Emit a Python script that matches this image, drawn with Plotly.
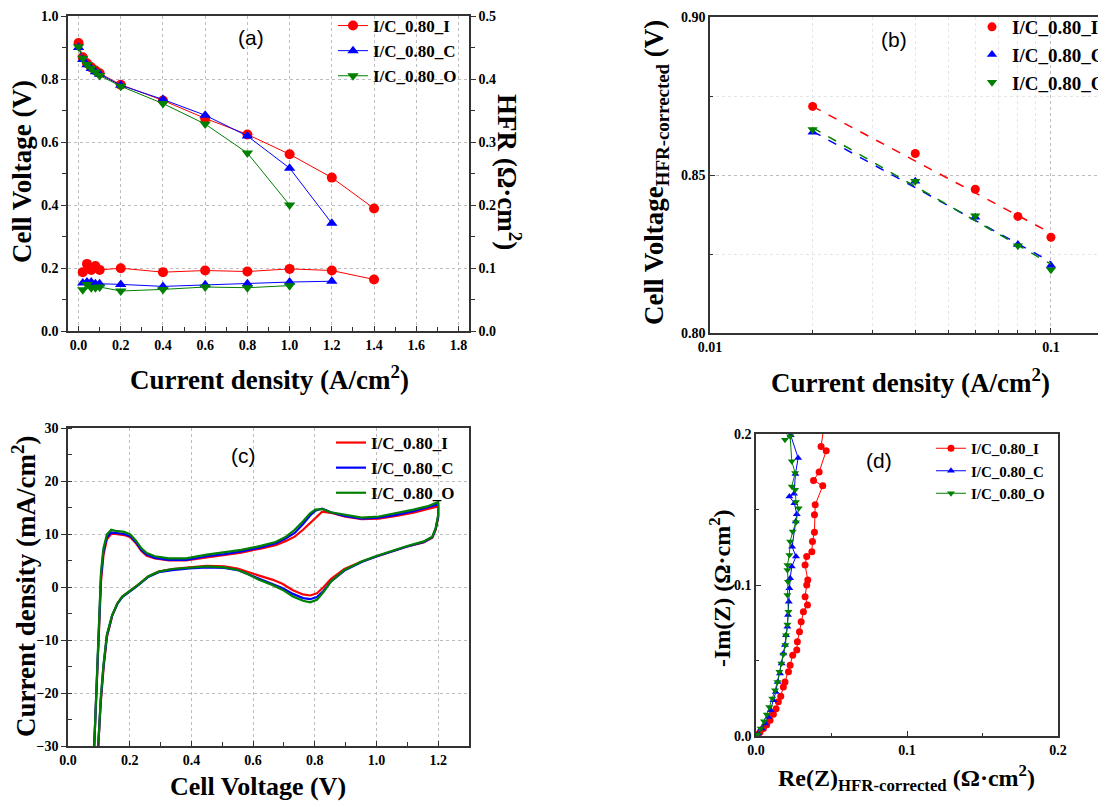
import plotly.graph_objects as go

# The page body has an 8px default margin, so the figure is drawn 8px in from the corner.
OFF = 8
W, H = 1106 - OFF, 807 - OFF


def fx(p):
    return (p - OFF) / W


def fy(p):
    return 1 - (p - OFF) / H


RED, BLUE, GREEN = "#FF0000", "#0000FF", "#008000"
NAMES = ["I/C_0.80_I", "I/C_0.80_C", "I/C_0.80_O"]
SERIF = "Liberation Serif"

# ---------------- (a) polarization + HFR ----------------
pol_j = [0.0, 0.02, 0.04, 0.06, 0.08, 0.1, 0.2, 0.4, 0.6, 0.8, 1.0, 1.2, 1.4]
pol_V_I = [0.914, 0.869, 0.850, 0.837, 0.827, 0.818, 0.782, 0.732, 0.675, 0.624, 0.561, 0.487, 0.389]
pol_V_C = [0.900, 0.862, 0.845, 0.833, 0.823, 0.815, 0.780, 0.735, 0.685, 0.619, 0.517, 0.342]
pol_V_O = [0.902, 0.866, 0.846, 0.834, 0.822, 0.811, 0.777, 0.722, 0.657, 0.565, 0.400]

hfr_j = [0.02, 0.04, 0.06, 0.08, 0.1, 0.2, 0.4, 0.6, 0.8, 1.0, 1.2, 1.4]
hfr_I = [0.0934, 0.1065, 0.0970, 0.1030, 0.0970, 0.0997, 0.0934, 0.0960, 0.0944, 0.0986, 0.0960, 0.0818]
hfr_C = [0.0760, 0.0777, 0.0777, 0.0750, 0.0750, 0.0740, 0.0708, 0.0735, 0.0750, 0.0777, 0.0790]
hfr_O = [0.0656, 0.0740, 0.0687, 0.0687, 0.0698, 0.0635, 0.0660, 0.0698, 0.0687, 0.0720]

# ---------------- (b) Tafel ----------------
taf_j = [0.02, 0.04, 0.06, 0.08, 0.1]
taf_I = [0.8717, 0.8568, 0.8455, 0.8369, 0.8303]
taf_C = [0.8635, 0.8480, 0.8366, 0.8280, 0.8214]
taf_O = [0.8644, 0.8480, 0.8371, 0.8276, 0.8200]
fit_j = [0.02, 0.1]
fit_I = [0.8717, 0.8316]
fit_C = [0.8638, 0.8225]
fit_O = [0.8650, 0.8218]

# ---------------- (c) cyclic voltammetry ----------------
cv_up_v = [0.085, 0.093, 0.1, 0.107, 0.115, 0.126, 0.14, 0.154, 0.182, 0.202, 0.221, 0.238,
           0.255, 0.282, 0.327, 0.383, 0.45, 0.506, 0.562, 0.628, 0.673, 0.707, 0.735, 0.762,
           0.785, 0.802, 0.824, 0.852, 0.896, 0.952, 1.008, 1.064, 1.12, 1.164, 1.2]
cv_up_I = [-30, -19.5, -7.5, 1.0, 6.0, 9.0, 10.0, 10.0, 9.8, 9.4, 8.2, 6.8, 5.9, 5.4, 5.0, 5.0,
           5.6, 6.0, 6.5, 7.3, 7.9, 8.7, 9.5, 10.8, 12.0, 13.0, 14.2, 14.0, 13.3, 12.8, 12.9,
           13.4, 14.0, 14.7, 15.2]
cv_up_C = [-30, -18.5, -6.5, 2.0, 6.8, 9.4, 10.3, 10.2, 10.0, 9.6, 8.4, 7.0, 6.1, 5.5, 5.1, 5.1,
           5.8, 6.2, 6.7, 7.5, 8.2, 9.2, 10.2, 11.9, 13.5, 14.4, 14.8, 14.1, 13.4, 12.9, 13.1,
           13.6, 14.3, 15.0, 15.6]
cv_up_O = [-30, -17.8, -5.3, 2.9, 7.3, 9.9, 10.8, 10.6, 10.4, 9.9, 8.7, 7.3, 6.4, 5.8, 5.4, 5.4,
           6.1, 6.5, 7.0, 7.8, 8.5, 9.5, 10.8, 12.4, 13.9, 14.6, 14.7, 14.1, 13.6, 13.1, 13.3,
           13.9, 14.6, 15.2, 16.0]
cv_dn_v = [1.2, 1.2, 1.192, 1.181, 1.153, 1.097, 1.042, 0.997, 0.952, 0.896, 0.852, 0.829,
           0.807, 0.785, 0.762, 0.729, 0.695, 0.662, 0.617, 0.584, 0.55, 0.506, 0.45, 0.394,
           0.338, 0.294, 0.26, 0.227, 0.199, 0.176, 0.16, 0.143, 0.126, 0.115, 0.106, 0.098]
cv_dn_I = [15.2, 13.0, 10.8, 9.3, 8.4, 7.6, 6.6, 5.7, 4.8, 3.4, 1.5, 0.0, -1.2, -1.6, -1.4, -0.6,
           0.6, 1.4, 2.2, 2.9, 3.5, 3.9, 4.0, 3.7, 3.4, 2.9, 2.0, 0.4, -0.9, -1.8, -3.1, -5.5,
           -9.5, -15.5, -22.0, -30.0]
cv_dn_C = [15.6, 13.3, 11.0, 9.4, 8.5, 7.6, 6.6, 5.7, 4.7, 3.1, 1.0, -0.7, -1.9, -2.3, -2.1, -1.3,
           -0.2, 0.6, 1.6, 2.5, 3.2, 3.6, 3.7, 3.5, 3.2, 2.8, 1.9, 0.3, -1.0, -1.9, -3.2, -5.4,
           -9.2, -15.0, -21.5, -30.0]
cv_dn_O = [16.0, 13.6, 11.1, 9.5, 8.6, 7.7, 6.7, 5.8, 4.8, 3.2, 1.0, -0.9, -2.4, -2.9, -2.6, -1.8,
           -0.5, 0.4, 1.4, 2.4, 3.2, 3.7, 3.9, 3.7, 3.4, 2.9, 2.0, 0.4, -0.9, -1.8, -3.1, -5.3,
           -9.0, -14.7, -21.0, -30.0]

# ---------------- (d) Nyquist ----------------
nyq_re_I = [0.0, 0.0009, 0.0027, 0.0049, 0.0071, 0.0093, 0.0115, 0.0133, 0.0148, 0.0164, 0.0181,
            0.0192, 0.0215, 0.0226, 0.0243, 0.0270, 0.0274, 0.0288, 0.0299, 0.0314, 0.0341,
            0.0325, 0.0336, 0.0343, 0.0325, 0.0336, 0.0370, 0.0374, 0.0387, 0.0387, 0.0392,
            0.0442, 0.0381, 0.0418, 0.0465, 0.0431, 0.0452]
nyq_im_I = [0.0, 0.0009, 0.0027, 0.0049, 0.0075, 0.0104, 0.0144, 0.0181, 0.0226, 0.0263, 0.0325,
            0.0358, 0.0425, 0.0469, 0.0535, 0.0569, 0.0624, 0.0690, 0.0757, 0.0823, 0.0867,
            0.0923, 0.1000, 0.1033, 0.1133, 0.1188, 0.1221, 0.1288, 0.1350, 0.1465, 0.1531,
            0.1657, 0.1692, 0.1748, 0.1889, 0.1918, 0.2062]
nyq_re_C = [0.0, 0.0015, 0.0038, 0.0060, 0.0082, 0.0097, 0.0115, 0.0131, 0.0144, 0.0159, 0.0170,
            0.0181, 0.0192, 0.0199, 0.0208, 0.0212, 0.0217, 0.0221, 0.0226, 0.0237, 0.0265,
            0.0239, 0.0263, 0.0270, 0.0254, 0.0221, 0.0252, 0.0261, 0.0279, 0.0230, 0.0243]
nyq_im_C = [0.0, 0.0015, 0.0049, 0.0082, 0.0126, 0.0170, 0.0237, 0.0292, 0.0358, 0.0414, 0.0480,
            0.0546, 0.0602, 0.0668, 0.0723, 0.0801, 0.0889, 0.0978, 0.1044, 0.1122, 0.1188,
            0.1254, 0.1420, 0.1469, 0.1542, 0.1586, 0.1604, 0.1735, 0.1841, 0.1991, 0.2029]
nyq_re_O = [0.0, 0.0009, 0.0031, 0.0053, 0.0071, 0.0088, 0.0108, 0.0126, 0.0142, 0.0155, 0.0168,
            0.0181, 0.0195, 0.0199, 0.0208, 0.0215, 0.0208, 0.0212, 0.0208, 0.0208, 0.0221,
            0.0226, 0.0243, 0.0265, 0.0283, 0.0265, 0.0259, 0.0237, 0.0259, 0.0237, 0.0226, 0.0192]
nyq_im_O = [0.0, 0.0009, 0.0049, 0.0097, 0.0142, 0.0192, 0.0248, 0.0303, 0.0358, 0.0425, 0.0480,
            0.0540, 0.0602, 0.0668, 0.0739, 0.0823, 0.0934, 0.1022, 0.1100, 0.1133, 0.1199,
            0.1288, 0.1354, 0.1416, 0.1509, 0.1549, 0.1631, 0.1653, 0.1741, 0.1819, 0.1985, 0.1962]

COLORS = [RED, BLUE, GREEN]
SYMS = ["circle", "triangle-up", "triangle-down"]

fig = go.Figure()

# (a)
for V, c, s, n in zip([pol_V_I, pol_V_C, pol_V_O], COLORS, SYMS, NAMES):
    fig.add_trace(go.Scatter(x=pol_j[:len(V)], y=V, mode="lines+markers", name=n,
                             line=dict(color=c, width=1), marker=dict(color=c, size=10, symbol=s),
                             xaxis="x", yaxis="y", legend="legend"))
for R, c, s, n in zip([hfr_I, hfr_C, hfr_O], COLORS, SYMS, NAMES):
    fig.add_trace(go.Scatter(x=hfr_j[:len(R)], y=R, mode="lines+markers", name=n, showlegend=False,
                             line=dict(color=c, width=1), marker=dict(color=c, size=10, symbol=s),
                             xaxis="x", yaxis="y5"))

# (b)
for V, F, c, s, n in zip([taf_I, taf_C, taf_O], [fit_I, fit_C, fit_O], COLORS, SYMS, NAMES):
    fig.add_trace(go.Scatter(x=taf_j, y=V, mode="markers", name=n,
                             marker=dict(color=c, size=9, symbol=s),
                             xaxis="x2", yaxis="y2", legend="legend2"))
    fig.add_trace(go.Scatter(x=fit_j, y=F, mode="lines", showlegend=False,
                             line=dict(color=c, width=1.5, dash="dash"),
                             xaxis="x2", yaxis="y2"))

# (c)
for up, dn, c, n in zip([cv_up_I, cv_up_C, cv_up_O], [cv_dn_I, cv_dn_C, cv_dn_O], COLORS, NAMES):
    fig.add_trace(go.Scatter(x=cv_up_v + cv_dn_v, y=up + dn, mode="lines", name=n,
                             line=dict(color=c, width=2.2),
                             xaxis="x3", yaxis="y3", legend="legend3"))

# (d)
for re_, im_, c, s, n in zip([nyq_re_I, nyq_re_C, nyq_re_O], [nyq_im_I, nyq_im_C, nyq_im_O],
                             COLORS, SYMS, NAMES):
    fig.add_trace(go.Scatter(x=re_, y=im_, mode="lines+markers", name=n,
                             line=dict(color=c, width=1), marker=dict(color=c, size=7, symbol=s),
                             xaxis="x4", yaxis="y4", legend="legend4"))

TICKFONT = dict(family=SERIF, size=14, color="black", weight="bold")
AX = dict(showline=True, linecolor="#333333", linewidth=1.5, tickfont=TICKFONT,
          tickcolor="#333333", zeroline=False, ticklabeloverflow="allow")
GRID = dict(showgrid=True, gridcolor="#bdbdbd", griddash="dot", gridwidth=1)

# panel plot areas (pixels in the 1106x807 page)
A = dict(l=68, r=469, t=16, b=331)
B = dict(l=710, r=1106, t=17, b=333)
C = dict(l=68, r=469, t=428, b=746)
D = dict(l=756, r=1058, t=434, b=736)

fig.update_layout(
    width=W, height=H,
    margin=dict(l=0, r=0, t=0, b=0, autoexpand=False),
    paper_bgcolor="white", plot_bgcolor="white",
    font=dict(family=SERIF, color="black"),
    xaxis=dict(domain=[fx(A["l"]), fx(A["r"])], anchor="y", range=[-0.05, 1.85],
               tickvals=[0, 0.2, 0.4, 0.6, 0.8, 1.0, 1.2, 1.4, 1.6, 1.8], tickformat=".1f",
               ticks="inside", ticklen=5, mirror=True,
               minor=dict(dtick=0.1, tick0=0, ticks="inside", ticklen=4, showgrid=False),
               **GRID, **AX),
    yaxis=dict(domain=[fy(A["b"]), fy(A["t"])], anchor="x", range=[0, 1.0], dtick=0.2,
               tickformat=".1f", ticks="outside", ticklen=5,
               minor=dict(dtick=0.1, ticks="outside", ticklen=4, showgrid=False),
               **GRID, **AX),
    yaxis5=dict(overlaying="y", anchor="x", side="right", range=[0, 0.5], dtick=0.1,
                tickformat=".1f", ticks="outside", ticklen=5, showgrid=False,
                minor=dict(dtick=0.05, ticks="outside", ticklen=4), **AX),
    xaxis2=dict(domain=[fx(B["l"]), fx(B["r"])], anchor="y2", type="log", range=[-2, -0.8385],
                tickvals=[0.01, 0.1], ticktext=["0.01", "0.1"], ticks="inside", ticklen=5,
                mirror=True,
                minor=dict(tickvals=[0.02, 0.03, 0.04, 0.05, 0.06, 0.07, 0.08, 0.09],
                           ticks="inside", ticklen=3, showgrid=True, gridcolor="#e6e6e6",
                           griddash="dot"),
                **GRID, **AX),
    yaxis2=dict(domain=[fy(B["b"]), fy(B["t"])], anchor="x2", range=[0.80, 0.90],
                tickvals=[0.80, 0.85, 0.90], tickformat=".2f", ticks="inside", ticklen=5,
                minor=dict(tickvals=[0.825, 0.875], ticks="inside", ticklen=3, showgrid=True,
                           gridcolor="#e6e6e6", griddash="dot"),
                **GRID, **AX),
    xaxis3=dict(domain=[fx(C["l"]), fx(C["r"])], anchor="y3", range=[0, 1.3],
                tickvals=[0, 0.2, 0.4, 0.6, 0.8, 1.0, 1.2], tickformat=".1f",
                ticks="inside", ticklen=5, mirror=True,
                minor=dict(dtick=0.1, ticks="inside", ticklen=4, showgrid=False),
                **GRID, **AX),
    yaxis3=dict(domain=[fy(C["b"]), fy(C["t"])], anchor="x3", range=[-30, 30], dtick=10,
                ticks="outside", ticklen=5, mirror=True,
                minor=dict(dtick=5, ticks="inside", ticklen=4, showgrid=False),
                **GRID, **AX),
    xaxis4=dict(domain=[fx(D["l"]), fx(D["r"])], anchor="y4", range=[0, 0.2],
                tickvals=[0, 0.1, 0.2], ticktext=["0.0", "0.1", "0.2"], ticks="inside",
                ticklen=5, mirror=True, showgrid=False,
                minor=dict(tickvals=[0.05, 0.15], ticks="inside", ticklen=3), **AX),
    yaxis4=dict(domain=[fy(D["b"]), fy(D["t"])], anchor="x4", range=[0, 0.2],
                tickvals=[0, 0.1, 0.2], ticktext=["0.0", "0.1", "0.2"], ticks="inside",
                ticklen=5, mirror=True, showgrid=False,
                minor=dict(tickvals=[0.05, 0.15], ticks="inside", ticklen=3), **AX),
)

LEGFONT = dict(family=SERIF, size=17, color="black", weight="bold")
common_leg = dict(xanchor="left", yanchor="top", bgcolor="rgba(0,0,0,0)", font=LEGFONT,
                  tracegroupgap=0, itemclick=False)
fig.update_layout(
    legend=dict(x=fx(333), y=fy(8), **common_leg),
    legend2=dict(x=fx(972), y=fy(8), **dict(common_leg, font=dict(LEGFONT, size=19))),
    legend3=dict(x=fx(331), y=fy(425), **common_leg),
    legend4=dict(x=fx(931), y=fy(432), **dict(common_leg, font=dict(LEGFONT, size=15))),
)

TITLEFONT = dict(family=SERIF, size=27, color="black", weight="bold")
ann = []


def title(text, x, y, angle=0, size=27):
    ann.append(dict(text=text, x=fx(x), y=fy(y), xref="paper", yref="paper", showarrow=False,
                    xanchor="center", yanchor="middle", textangle=angle,
                    font=dict(TITLEFONT, size=size)))


title("Current density (A/cm<sup>2</sup>)", 269, 378)
title("Cell Voltage (V)", 22, 172, -90)
title("HFR (Ω·cm<sup>2</sup>)", 509, 172, 90)
title("Current density (A/cm<sup>2</sup>)", 910, 381)
title("Cell Voltage<sub>HFR-corrected</sub> (V)", 656, 173, -90)
title("Cell Voltage (V)", 258, 786, 0, 26)
title("Current density (mA/cm<sup>2</sup>)", 24, 587, -90)
title("Re(Z)<sub>HFR-corrected</sub> (Ω·cm<sup>2</sup>)", 907, 778, 0, 24)
title("-Im(Z) (Ω·cm<sup>2</sup>)", 720, 588, -90, 24)

for lab, x, y in [("(a)", 251, 37), ("(b)", 894, 40), ("(c)", 243, 455), ("(d)", 879, 460)]:
    ann.append(dict(text=lab, x=fx(x), y=fy(y), xref="paper", yref="paper", showarrow=False,
                    xanchor="center", yanchor="middle",
                    font=dict(family="Liberation Sans", size=21, color="black")))

fig.update_layout(annotations=ann)
fig.write_html("out.html")
